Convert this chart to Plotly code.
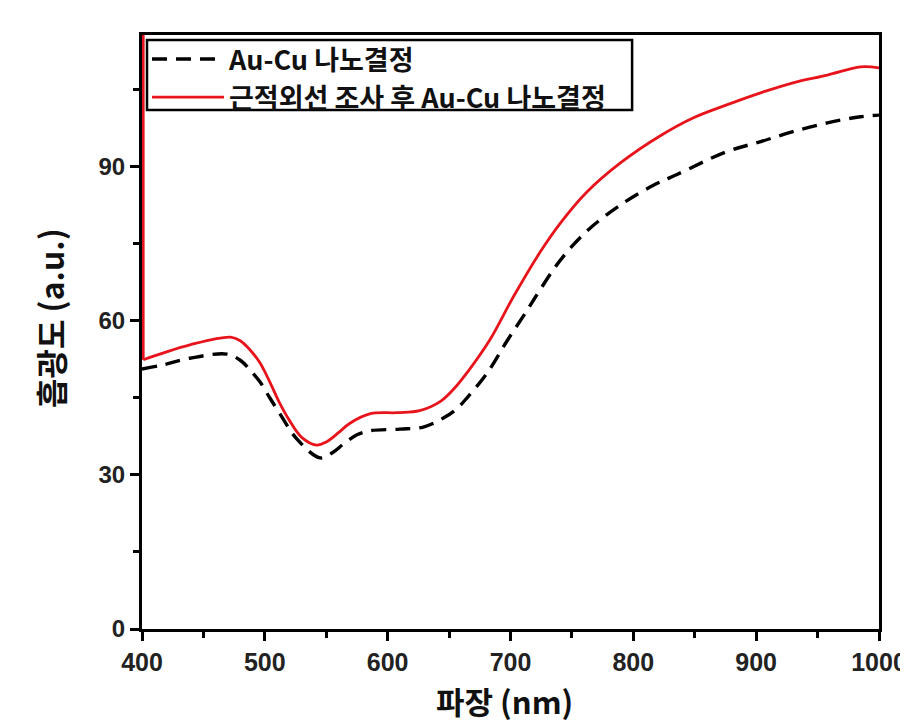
import plotly.graph_objects as go

# Wavelength (nm) and absorbance (a.u.)
wl_black = [400, 417, 439, 469, 480, 488, 496, 504, 512, 526, 545, 555, 564, 575, 586, 610, 629, 645,
            656, 665, 681, 697, 714, 724, 740, 762, 790, 816, 836, 876, 903, 930, 958, 985, 1000]
abs_black = [50.6, 51.4, 52.7, 53.5, 52.3, 50.4, 48.1, 45.0, 42.0, 37.0, 33.3, 34.3, 36.0, 37.8, 38.6, 38.9, 39.3, 41.0,
             42.8, 45.1, 49.8, 56.0, 62.2, 66.0, 71.6, 77.4, 82.6, 86.3, 88.5, 92.9, 94.8, 96.8, 98.5, 99.7, 100.0]

wl_red = [401, 417, 439, 472, 480, 488, 496, 504, 512, 520, 530, 542, 550, 560, 569, 586, 608, 626,
          643, 656, 665, 683, 702, 724, 740, 762, 790, 822, 849, 876, 903, 930, 958, 985, 1000]
abs_red = [52.4, 53.7, 55.3, 56.8, 56.1, 54.3, 51.8, 48.1, 44.0, 40.6, 37.3, 35.8, 36.4, 38.2, 40.0, 41.9, 42.1, 42.5,
           44.3, 47.3, 50.0, 56.2, 64.5, 73.3, 78.8, 85.0, 90.8, 96.0, 99.5, 102.0, 104.3, 106.3, 107.8, 109.4, 109.2]
# the red curve starts with a spike that runs off the top of the plot at 400 nm
red_spike_top = 118.0

names = ["Au-Cu 나노결정", "근적외선 조사 후 Au-Cu 나노결정"]
x_title = "파장 (nm)"
y_title = "흡광도 (a.u.)"
x_ticks = [400, 500, 600, 700, 800, 900, 1000]
y_ticks = [0, 30, 60, 90]

font_main = "Noto Sans CJK KR"
font_num = "Liberation Sans"
red = "#e8141c"

fig = go.Figure()
fig.add_trace(go.Scatter(
    x=wl_black, y=abs_black, mode="lines", name=names[0],
    line=dict(color="black", width=3.4, dash="15px,9px", shape="spline", smoothing=1.0),
))
fig.add_trace(go.Scatter(
    x=wl_red, y=abs_red, mode="lines", name=names[1],
    line=dict(color=red, width=2.8, shape="spline", smoothing=1.0),
))
fig.add_trace(go.Scatter(
    x=[wl_red[0], wl_red[0]], y=[red_spike_top, abs_red[0]], mode="lines",
    showlegend=False, hoverinfo="skip",
    line=dict(color=red, width=2.8),
))

axis_common = dict(
    showline=True, linecolor="black", linewidth=3, mirror=True,
    ticks="outside", ticklen=9, tickwidth=3, tickcolor="black",
    showgrid=False, zeroline=False, automargin=False, layer="below traces",
)

fig.update_xaxes(
    range=[400, 1000], tickvals=x_ticks,
    minor=dict(ticks="outside", ticklen=6, tickwidth=3, tickcolor="black", dtick=50, tick0=400),
    tickfont=dict(family=font_num, size=25, color="#222", weight="bold"),
    **axis_common,
)
fig.update_yaxes(
    range=[0, 115.6], tickvals=y_ticks,
    minor=dict(ticks="outside", ticklen=6, tickwidth=3, tickcolor="black", dtick=15, tick0=0),
    tickfont=dict(family=font_num, size=24, color="#222", weight="bold"),
    **axis_common,
)

fig.add_annotation(
    text=x_title, xref="paper", yref="paper", x=0.4925, y=-0.12,
    xanchor="center", yanchor="middle", showarrow=False,
    font=dict(family=font_main, size=31, color="#111", weight="bold"),
)
fig.add_annotation(
    text=y_title, xref="paper", yref="paper", x=-0.1248, y=0.5236,
    xanchor="center", yanchor="middle", showarrow=False, textangle=-90,
    font=dict(family=font_main, size=32, color="#111", weight="bold"),
)

# legend frame
fig.add_shape(
    type="rect", xref="paper", yref="paper",
    x0=0.0068, x1=0.665, y0=0.8737, y1=0.9916,
    line=dict(color="black", width=2.5), fillcolor="rgba(0,0,0,0)", layer="above",
)

# The page body has an 8 px default margin, so the figure is sized to fit inside it.
fig.update_layout(
    width=900, height=716,
    margin=dict(l=134, r=29, t=27, b=95),
    plot_bgcolor="white", paper_bgcolor="white",
    showlegend=True,
    legend=dict(
        x=0.0068, y=1.0, xanchor="left", yanchor="top",
        bgcolor="rgba(0,0,0,0)", borderwidth=0,
        font=dict(family=font_main, size=27, color="#111", weight="bold"),
        itemwidth=72, tracegroupgap=0,
    ),
)

fig.write_html("out.html")
